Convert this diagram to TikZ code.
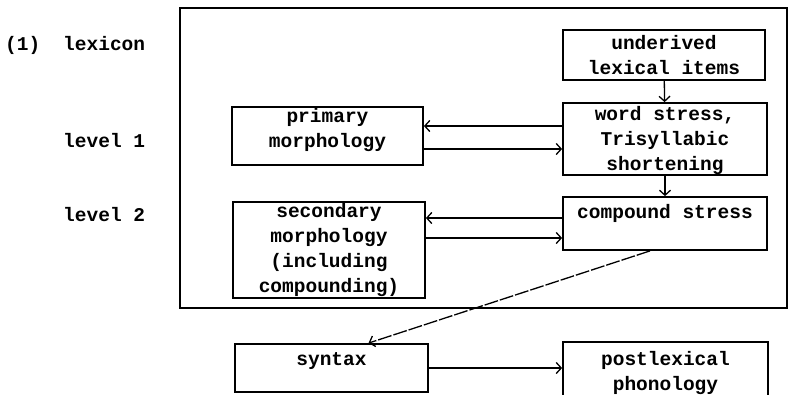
\documentclass[tikz,border=0pt]{standalone}
\usepackage{fontspec}
\setmonofont{Liberation Mono}
\usetikzlibrary{arrows.meta}

\tikzset{
  box/.style={draw, line width=1.8pt, inner sep=0pt},
  txt/.style={font=\ttfamily\bfseries\fontsize{19.5}{25}\selectfont, align=center, inner sep=0pt},
  arr/.style={line width=1.3pt, -{Straight Barb[length=5pt,width=11pt]}},
}

\begin{document}
\begin{tikzpicture}[x=1pt,y=-1pt]
\clip (0,0) rectangle (792,394);
% Draw lexicon frame
\draw[line width=1.8pt] (180,8) rectangle (787,308);
% Labels on the left
\node[txt, anchor=base west] (num) at (5,50) {(1)};
\node[txt, anchor=base west] (lexicon) at (63,50) {lexicon};
\node[txt, anchor=base west] (levone) at (63,147) {level 1};
\node[txt, anchor=base west] (levtwo) at (63,221) {level 2};
% Boxes in the lexicon
\node[box, minimum width=202pt, minimum height=50pt] (under) at (664,55) {};
\node[box, minimum width=204pt, minimum height=72pt] (word) at (665,139) {};
\node[box, minimum width=191pt, minimum height=58pt] (prim) at (327.5,136) {};
\node[box, minimum width=204pt, minimum height=53pt] (comp) at (665,223.5) {};
\node[box, minimum width=192pt, minimum height=96pt] (sec) at (329,250) {};
% Boxes below the lexicon
\node[box, minimum width=193pt, minimum height=48pt] (syn) at (331.5,368) {};
\node[box, minimum width=205pt, minimum height=58pt] (post) at (665.5,371) {};
% Texts of the boxes
\node[txt] (undertxt) at (under) {underived\\lexical items};
\node[txt, yshift=-1pt] (wordtxt) at (word) {word stress,\\Trisyllabic\\shortening};
\node[txt, yshift=6.5pt] (primtxt) at (prim) {primary\\morphology};
\node[txt, yshift=10pt] (comptxt) at (comp) {compound stress};
\node[txt] (sectxt) at (sec) {secondary\\morphology\\(including\\compounding)};
\node[txt, yshift=7pt] (syntxt) at (syn) {syntax};
\node[txt, yshift=-1.5pt] (posttxt) at (post) {postlexical\\phonology};
% Arrows down the right column
\draw[arr] (under) -- (word);
\draw[arr] (word) -- (comp);
% Arrows between level 1 boxes
\draw[arr] ([yshift=13pt]word.west) -- ([yshift=13pt]word.west -| prim.east);
\draw[arr] ([yshift=-13pt]prim.east) -- ([yshift=-13pt]prim.east -| word.west);
% Arrows between level 2 boxes
\draw[arr] ([yshift=5.5pt]comp.west) -- ([yshift=5.5pt]comp.west -| sec.east);
\draw[arr] ([yshift=-14.5pt]comp.west -| sec.east) -- ([yshift=-14.5pt]comp.west);
% Out of the lexicon
\draw[arr, dash pattern=on 14pt off 2pt] ([xshift=-15pt]comp.south) -- ([xshift=37pt]syn.north);
\draw[arr] (syn.east) -- (syn.east -| post.west);
\end{tikzpicture}
\end{document}
